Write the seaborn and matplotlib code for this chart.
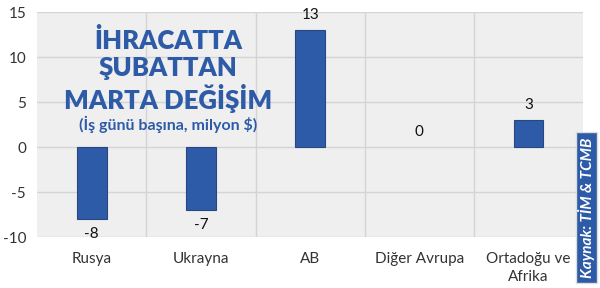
import pandas as pd
import seaborn as sns
import matplotlib.pyplot as plt
from matplotlib.patches import Rectangle

# veriler
bolgeler = ["Rusya", "Ukrayna", "AB", "Diğer Avrupa", "Ortadoğu ve\nAfrika"]
degisim = [-8, -7, 13, 0, 3]
y_ticks = [-10, -5, 0, 5, 10, 15]

df = pd.DataFrame({"Bolge": bolgeler, "Degisim": degisim})

sns.set_style("whitegrid")
plt.rcParams["font.family"] = ["Lato", "DejaVu Sans"]
plt.rcParams["axes.unicode_minus"] = False

mavi = "#2e5ba8"
fig = plt.figure(figsize=(6, 2.88), dpi=100)
ax = fig.add_axes([0.062, 0.177, 0.91, 0.781])
ax.set_facecolor("#efefef")

sns.barplot(x="Bolge", y="Degisim", data=df, color=mavi, width=0.27,
            edgecolor="#27487f", linewidth=0.8, saturation=1, ax=ax)

for c in ax.containers:
    ax.bar_label(c, labels=[str(v) for v in degisim], padding=6,
                 fontsize=11, color="#111111")
    for p, v in zip(c.patches, degisim):
        if v == 0:
            p.set_linewidth(0)

ax.set_ylim(-10, 15)
ax.set_yticks(y_ticks)
ax.set_xlim(-0.5, len(bolgeler) - 0.5)
ax.set_xticks([i + 0.5 for i in range(len(bolgeler) - 1)], minor=True)
ax.grid(False)
ax.grid(True, axis="y", color="#d4d4d4", linewidth=1)
ax.grid(True, axis="x", which="minor", color="#d4d4d4", linewidth=1)
for s in ax.spines.values():
    s.set_visible(False)
ax.tick_params(axis="both", which="both", length=0, labelsize=11, colors="#333333")
ax.tick_params(axis="x", pad=11)
ax.tick_params(axis="y", pad=8)
for t in ax.get_xticklabels():
    t.set_linespacing(1.3)
ax.set_xlabel("")
ax.set_ylabel("")

# başlık
ax.text(0.24, 0.93, "İHRACATTA\nŞUBATTAN\nMARTA DEĞİŞİM", transform=ax.transAxes,
        ha="center", va="top", fontsize=18.5, fontweight="heavy", color=mavi,
        linespacing=1.15)
ax.text(0.24, 0.502, "(İş günü başına, milyon $)", transform=ax.transAxes,
        ha="center", va="center", fontsize=11.5, fontweight="bold", color=mavi)

# kaynak kutusu
fig.patches.append(Rectangle((0.96, 0.017), 0.035, 0.525, transform=fig.transFigure,
                             facecolor=mavi, edgecolor="#dddddd", linewidth=1))
fig.text(0.978, 0.28, "Kaynak: TİM & TCMB", rotation=90, ha="center", va="center",
         fontsize=11, fontweight="bold", fontstyle="italic", color="white")

plt.savefig("out.png", dpi=100)
